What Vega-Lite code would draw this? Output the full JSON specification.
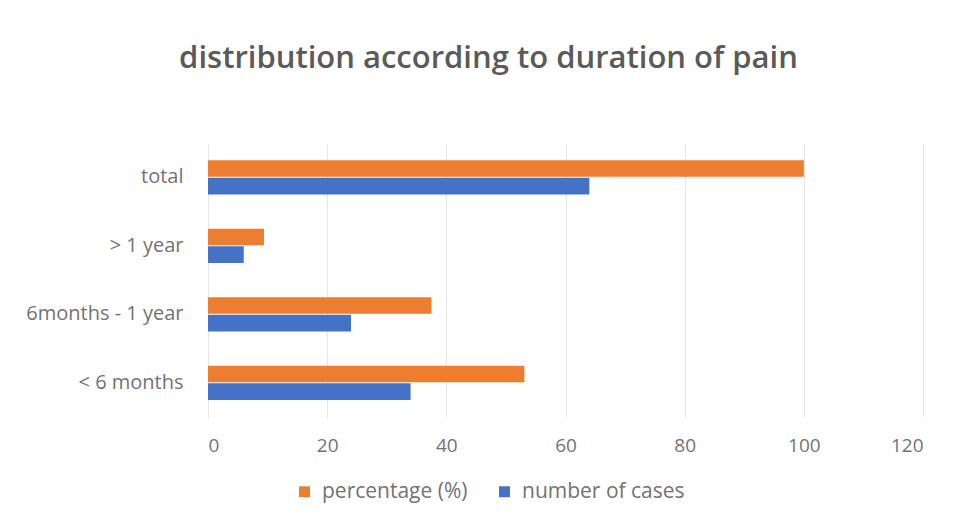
{
  "$schema": "https://vega.github.io/schema/vega-lite/v6.json",
  "autosize": {"type": "none"},
  "width": 715,
  "height": 274,
  "padding": {"left": 208, "top": 143, "right": 39, "bottom": 105},
  "background": "white",
  "title": {
    "text": "distribution according to duration of pain",
    "font": "Open Sans",
    "fontSize": 31,
    "fontWeight": 600,
    "color": "#5a5a5a",
    "anchor": "middle",
    "dx": -77,
    "offset": 68
  },
  "data": {
    "values": [
      {"duration": "total", "series": "percentage (%)", "value": 100},
      {"duration": "total", "series": "number of cases", "value": 64},
      {"duration": "> 1 year", "series": "percentage (%)", "value": 9.4},
      {"duration": "> 1 year", "series": "number of cases", "value": 6},
      {"duration": "6months - 1 year", "series": "percentage (%)", "value": 37.5},
      {"duration": "6months - 1 year", "series": "number of cases", "value": 24},
      {"duration": "< 6 months", "series": "percentage (%)", "value": 53.1},
      {"duration": "< 6 months", "series": "number of cases", "value": 34}
    ]
  },
  "mark": {"type": "bar"},
  "encoding": {
    "y": {
      "field": "duration",
      "type": "nominal",
      "sort": ["total", "> 1 year", "6months - 1 year", "< 6 months"],
      "scale": {"paddingInner": 0.5, "paddingOuter": 0.25},
      "axis": {
        "title": null,
        "ticks": false,
        "domain": false,
        "labelPadding": 25,
        "labelFont": "Open Sans",
        "labelFontSize": 20,
        "labelColor": "#737373"
      }
    },
    "yOffset": {
      "field": "series",
      "type": "nominal",
      "sort": ["percentage (%)", "number of cases"],
      "scale": {"paddingInner": 0.05}
    },
    "x": {
      "field": "value",
      "type": "quantitative",
      "scale": {"domain": [0, 120], "nice": false},
      "axis": {
        "title": null,
        "values": [0, 20, 40, 60, 80, 100, 120],
        "ticks": false,
        "domain": false,
        "labelPadding": 19,
        "labelFont": "Open Sans",
        "labelFontSize": 19,
        "labelColor": "#737373",
        "gridColor": "#e4e4e4",
        "gridWidth": 1
      }
    },
    "color": {
      "field": "series",
      "type": "nominal",
      "sort": ["percentage (%)", "number of cases"],
      "scale": {"domain": ["percentage (%)", "number of cases"], "range": ["#ED7D31", "#4472C4"]},
      "legend": {
        "title": null,
        "orient": "none",
        "legendX": 86,
        "legendY": 338,
        "direction": "horizontal",
        "symbolType": "square",
        "symbolSize": 120,
        "labelFont": "Open Sans",
        "labelFontSize": 21,
        "labelOffset": 7,
        "labelLimit": 0,
        "labelColor": "#737373",
        "columnPadding": 26
      }
    }
  },
  "config": {"view": {"stroke": null}}
}
